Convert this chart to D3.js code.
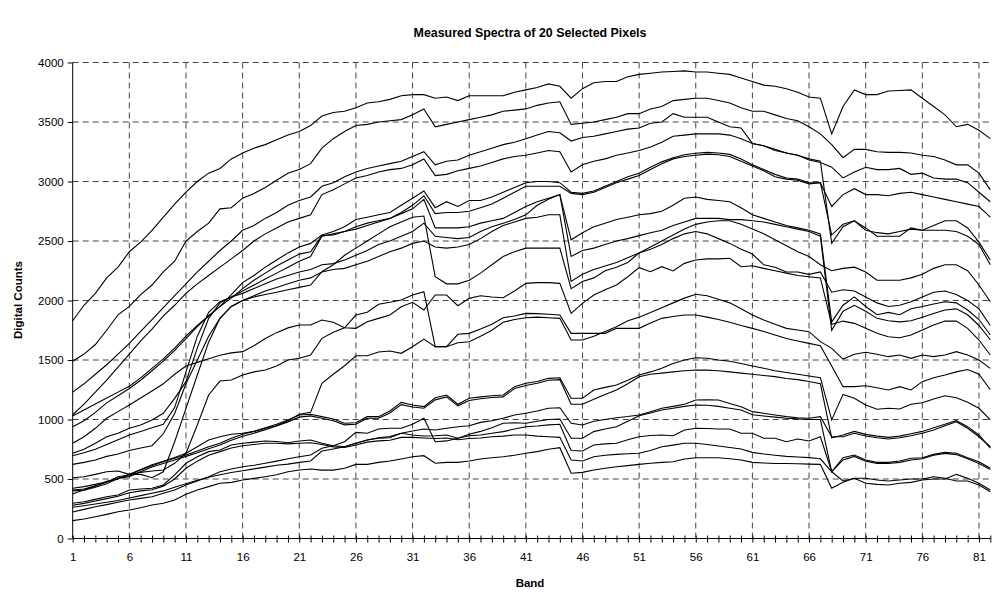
<!DOCTYPE html>
<html>
<head>
<meta charset="utf-8">
<title>Measured Spectra of 20 Selected Pixels</title>
<script src="https://cdn.jsdelivr.net/npm/d3@7"></script>
<style>
  body { margin: 0; background: #fff; }
  svg { display: block; font-family: Arial, "Liberation Sans", sans-serif; }
</style>
</head>
<body>
<svg id="chart" width="992" height="596"></svg>
<script>
// band numbers (categories) and axis labels
const bands = [1,2,3,4,5,6,7,8,9,10,11,12,13,14,15,16,17,18,19,20,21,22,23,24,25,26,27,28,29,30,
  31,32,33,34,35,36,37,38,39,40,41,42,43,44,45,46,47,48,49,50,51,52,53,54,55,56,57,58,59,60,
  61,62,63,64,65,66,67,68,69,70,71,72,73,74,75,76,77,78,79,80,81,82];
const xTickLabels = [1,6,11,16,21,26,31,36,41,46,51,56,61,66,71,76,81];
const yTickValues = [0,500,1000,1500,2000,2500,3000,3500,4000];

// digital counts of the 20 pixels, one value per band
const s01 = [1830,1960,2060,2190,2280,2410,2490,2590,2700,2810,2910,3000,3070,3110,3190,3240,3280,3310,3350,3390,
  3420,3470,3550,3580,3590,3620,3660,3670,3690,3720,3730,3730,3700,3710,3680,3720,3720,3720,3720,3750,
  3770,3790,3820,3800,3700,3780,3830,3840,3840,3880,3900,3910,3920,3925,3930,3920,3920,3910,3900,3870,
  3840,3810,3800,3780,3750,3710,3700,3400,3630,3770,3730,3730,3760,3765,3770,3700,3630,3560,3460,3480,3430,3360];
const s02 = [1490,1550,1630,1750,1880,1950,2050,2130,2240,2330,2500,2580,2650,2770,2780,2860,2900,2950,3010,3070,
  3100,3150,3280,3360,3420,3470,3480,3500,3510,3520,3560,3610,3460,3480,3500,3520,3540,3560,3590,3600,
  3610,3640,3660,3670,3480,3490,3500,3520,3540,3570,3570,3610,3630,3680,3690,3700,3700,3680,3660,3620,
  3590,3590,3560,3530,3510,3460,3400,3310,3200,3270,3270,3250,3245,3245,3240,3220,3210,3180,3140,3140,3070,2930];
const s03 = [1230,1300,1380,1460,1550,1640,1740,1840,1940,2040,2140,2240,2330,2420,2500,2590,2630,2690,2740,2800,
  2840,2870,2960,2990,3040,3080,3110,3130,3150,3170,3210,3250,3140,3170,3180,3220,3250,3280,3310,3330,
  3360,3390,3420,3410,3340,3370,3380,3400,3420,3440,3450,3490,3500,3570,3540,3540,3540,3500,3460,3450,
  3320,3300,3270,3240,3220,3180,3160,3120,3030,3080,3120,3100,3100,3110,3060,3070,3030,3020,3020,2990,2910,2830];
const s04 = [1040,1130,1230,1330,1440,1550,1660,1760,1870,1960,2060,2140,2210,2280,2350,2420,2500,2560,2610,2660,
  2690,2720,2890,2930,2980,3030,3050,3080,3100,3110,3140,3190,3050,3060,3090,3110,3130,3160,3190,3210,
  3220,3240,3260,3250,3080,3140,3170,3190,3220,3240,3260,3290,3330,3380,3390,3400,3400,3400,3390,3360,
  3320,3300,3260,3240,3220,3190,3170,2480,2620,2670,2610,2540,2540,2540,2610,2590,2630,2670,2670,2610,2490,2340];
const s05 = [1030,1080,1130,1180,1230,1280,1350,1430,1510,1600,1700,1790,1870,1950,2050,2150,2210,2280,2340,2400,
  2450,2480,2550,2580,2620,2680,2700,2720,2740,2800,2860,2920,2780,2830,2790,2840,2840,2870,2910,2950,
  2990,3000,3000,2990,2910,2900,2920,2960,3000,3040,3070,3120,3165,3200,3225,3237,3245,3240,3228,3190,
  3140,3100,3060,3030,3020,2990,2990,2790,2890,2940,2890,2890,2880,2900,2910,2890,2870,2850,2830,2810,2790,2700];
const s06 = [940,990,1060,1140,1200,1260,1330,1410,1490,1580,1680,1780,1870,1950,2020,2100,2170,2230,2290,2340,
  2390,2410,2545,2550,2580,2620,2650,2670,2690,2740,2800,2880,2730,2740,2740,2750,2780,2810,2860,2910,
  2960,2960,2960,2960,2900,2890,2910,2950,2990,3020,3050,3100,3150,3190,3210,3220,3230,3225,3210,3170,
  3130,3090,3040,3020,3010,2980,2990,2550,2640,2670,2590,2570,2560,2580,2600,2590,2590,2590,2580,2540,2470,2300];
const s07 = [716,750,800,855,884,926,954,996,1052,1178,1318,1600,1850,1980,2030,2080,2130,2180,2230,2280,
  2330,2370,2540,2560,2580,2600,2630,2660,2690,2730,2770,2850,2610,2610,2610,2620,2650,2670,2690,2740,
  2790,2830,2860,2890,2510,2570,2620,2650,2680,2700,2720,2730,2750,2800,2860,2870,2850,2840,2830,2780,
  2720,2690,2660,2630,2610,2590,2560,1820,1960,2030,1950,1880,1900,1880,1930,1950,1970,1990,1980,1920,1840,1710];
const s08 = [696,720,750,790,830,870,900,930,960,1100,1400,1700,1900,1990,2030,2060,2100,2140,2180,2210,
  2240,2260,2300,2310,2340,2380,2420,2470,2500,2540,2580,2650,2540,2530,2520,2530,2580,2620,2650,2680,
  2720,2800,2850,2890,2370,2420,2440,2470,2500,2520,2545,2570,2590,2630,2660,2690,2690,2690,2680,2680,
  2670,2660,2640,2620,2600,2580,2540,1750,1910,1960,1910,1850,1830,1820,1830,1860,1890,1920,1930,1880,1790,1670];
const s09 = [623,640,660,690,710,740,760,780,880,1050,1300,1500,1700,1850,1950,2000,2040,2080,2110,2140,
  2170,2190,2240,2260,2270,2300,2330,2370,2410,2440,2480,2500,2450,2440,2450,2470,2520,2580,2630,2660,
  2690,2700,2720,2720,2160,2220,2260,2290,2320,2360,2400,2450,2500,2550,2600,2640,2660,2670,2670,2640,
  2600,2560,2510,2460,2410,2370,2300,2250,2270,2280,2240,2170,2170,2170,2190,2220,2270,2300,2300,2250,2130,1990];
const s10 = [511,519,539,561,567,539,539,511,561,813,1094,1374,1650,1850,1950,2000,2030,2050,2070,2090,
  2110,2130,2242,2300,2380,2440,2500,2560,2620,2660,2700,2710,2200,2140,2140,2170,2230,2300,2370,2410,
  2440,2440,2440,2440,2100,2160,2190,2250,2280,2320,2400,2430,2470,2520,2560,2580,2560,2520,2480,2430,
  2390,2300,2280,2240,2240,2220,2240,2070,2090,2080,2030,1980,1950,1960,1990,2030,2070,2080,2050,2000,1930,1790];
const s11 = [800,855,926,1010,1066,1122,1180,1240,1300,1380,1450,1480,1510,1540,1560,1570,1620,1680,1730,1770,
  1794,1794,1836,1817,1771,1766,1822,1850,1878,1948,1985,1920,2046,2046,1956,2018,2040,2030,2023,2080,
  2144,2150,2150,2144,1892,1976,2046,2090,2130,2200,2276,2242,2284,2248,2312,2340,2350,2350,2355,2284,
  2292,2270,2250,2230,2210,2200,2190,1800,1827,1808,1766,1724,1696,1687,1710,1752,1794,1827,1827,1766,1668,1542];
const s12 = [374,410,440,480,500,540,580,620,650,680,716,954,1206,1323,1332,1374,1400,1416,1450,1500,
  1514,1542,1682,1733,1771,1878,1901,1968,1985,2004,2046,2074,1612,1612,1716,1724,1760,1800,1855,1870,
  1892,1890,1885,1878,1724,1724,1724,1724,1766,1766,1766,1810,1850,1865,1878,1878,1860,1840,1817,1790,
  1766,1740,1710,1680,1660,1640,1620,1450,1276,1276,1284,1267,1248,1276,1248,1318,1351,1374,1400,1420,1380,1250];
const s13 = [422,436,455,477,506,534,556,567,575,632,716,771,828,855,876,884,900,926,950,990,
  1044,1060,1304,1380,1452,1536,1536,1567,1576,1556,1612,1676,1612,1612,1645,1654,1700,1750,1817,1840,
  1855,1860,1855,1850,1668,1668,1700,1740,1780,1830,1860,1900,1940,1980,2020,2052,2040,2010,1980,1930,
  1878,1836,1800,1766,1752,1738,1654,1598,1508,1548,1565,1548,1528,1542,1514,1542,1528,1542,1570,1542,1500,1430];
const s14 = [408,416,444,472,519,534,575,612,645,674,702,735,771,800,842,876,900,930,960,996,
  1038,1044,1024,1004,968,973,1024,1024,1071,1144,1122,1108,1183,1206,1128,1178,1190,1200,1206,1276,
  1304,1320,1346,1351,1178,1178,1248,1270,1290,1330,1374,1400,1430,1470,1500,1519,1515,1500,1490,1470,
  1450,1430,1410,1395,1380,1365,1351,996,1211,1178,1122,1086,1094,1088,1128,1141,1172,1200,1183,1144,1094,996];
const s15 = [400,405,430,460,505,520,560,600,630,660,690,720,755,785,825,860,885,915,945,980,
  1020,1030,1010,990,955,960,1010,1010,1055,1125,1105,1095,1165,1190,1115,1160,1175,1185,1190,1260,
  1285,1305,1330,1335,1128,1128,1170,1210,1248,1300,1360,1380,1390,1400,1410,1416,1415,1410,1400,1390,
  1380,1370,1360,1345,1335,1320,1300,845,870,900,875,860,850,860,880,900,930,960,990,940,870,760];
const s16 = [262,275,290,305,320,340,360,380,400,430,460,490,515,535,555,570,585,600,615,625,
  640,651,735,752,771,800,828,847,856,884,903,920,912,926,939,948,976,990,1010,1038,
  1052,1071,1094,1099,968,954,985,1000,1015,1025,1038,1065,1094,1110,1128,1164,1165,1164,1135,1108,
  1066,1052,1038,1024,1015,1010,1024,855,855,884,861,847,836,847,864,884,912,948,981,926,855,771];
const s17 = [222,245,267,285,304,324,337,351,380,408,450,483,519,561,584,603,615,632,650,670,
  687,702,758,780,813,892,884,920,926,926,960,1010,813,820,842,876,900,930,968,973,
  968,985,1000,1004,842,842,898,920,939,985,1032,1055,1080,1095,1110,1122,1120,1110,1095,1080,
  1040,1030,1020,1010,1005,1000,1000,561,679,702,660,640,640,651,674,679,707,724,716,679,645,590];
const s18 = [296,309,329,351,366,408,416,422,450,534,632,687,730,744,786,800,810,819,815,805,
  819,828,800,780,771,800,828,842,847,884,870,861,864,870,842,864,870,885,898,920,
  939,945,955,960,740,735,786,795,800,830,855,865,870,864,912,926,925,920,920,884,
  884,842,842,813,836,819,855,561,660,690,650,630,630,640,660,670,700,715,705,670,630,580];
const s19 = [280,295,315,335,355,385,400,410,440,500,590,650,700,730,760,780,790,800,800,795,
  800,805,790,770,765,785,810,820,825,850,850,845,840,845,830,840,845,855,860,870,
  870,860,855,850,660,651,687,700,707,712,716,740,771,785,800,800,790,777,765,752,
  724,710,700,690,685,680,670,561,483,506,464,455,450,464,472,492,500,500,539,506,464,408];
const s20 = [150,164,183,203,225,240,259,282,296,324,371,408,436,464,472,492,505,519,535,561,
  575,584,575,575,590,623,623,640,651,668,687,696,632,640,640,651,668,678,687,700,
  716,730,750,763,548,556,575,590,603,612,623,632,640,645,668,679,679,679,670,660,
  640,635,630,630,628,625,623,422,472,506,506,492,483,492,500,500,519,506,483,483,450,393];

const series = [s01,s02,s03,s04,s05,s06,s07,s08,s09,s10,s11,s12,s13,s14,s15,s16,s17,s18,s19,s20];

const svg = d3.select("#chart");
const x = d3.scaleLinear().domain([1, 82]).range([72.7, 990.3]);
const y = d3.scaleLinear().domain([0, 4000]).range([538.5, 62.5]);

// dashed grid
svg.append("g").selectAll("line")
  .data(yTickValues.filter(d => d > 0))
  .join("line")
  .attr("x1", x(1)).attr("x2", x(82))
  .attr("y1", d => y(d)).attr("y2", d => y(d))
  .attr("stroke", "#444").attr("stroke-width", 1).attr("stroke-dasharray", "6,4");

svg.append("g").selectAll("line")
  .data(xTickLabels.filter(d => d > 1))
  .join("line")
  .attr("x1", d => x(d)).attr("x2", d => x(d))
  .attr("y1", y(0)).attr("y2", y(4000))
  .attr("stroke", "#444").attr("stroke-width", 1).attr("stroke-dasharray", "6,4");

// spectra
const line = d3.line().x((d, i) => x(bands[i])).y(d => y(d));
svg.append("g").selectAll("path")
  .data(series)
  .join("path")
  .attr("d", line)
  .attr("fill", "none")
  .attr("stroke", "#000")
  .attr("stroke-width", 1.1);

// x axis
const xAxis = svg.append("g")
  .attr("transform", `translate(0,${y(0)})`)
  .call(d3.axisBottom(x).tickValues(bands)
    .tickFormat(d => xTickLabels.includes(d) ? d : "")
    .tickSize(4).tickPadding(10));
xAxis.select(".domain").remove();
xAxis.selectAll(".tick line").attr("y1", -3).attr("stroke", "#000");
xAxis.selectAll("text").attr("font-size", 11.5).attr("font-family", "Arial, 'Liberation Sans', sans-serif").attr("fill", "#000");
svg.append("line")
  .attr("x1", x(1)).attr("x2", x(82))
  .attr("y1", y(0)).attr("y2", y(0))
  .attr("stroke", "#000");

// y axis
const yAxis = svg.append("g")
  .attr("transform", `translate(${x(1)},0)`)
  .call(d3.axisLeft(y).tickValues(yTickValues).tickFormat(d3.format("d")).tickSize(5).tickPadding(4));
yAxis.select(".domain").remove();
yAxis.selectAll(".tick line").attr("stroke", "#000");
yAxis.selectAll("text").attr("font-size", 11.5).attr("font-family", "Arial, 'Liberation Sans', sans-serif").attr("fill", "#000");
svg.append("line")
  .attr("x1", x(1)).attr("x2", x(1))
  .attr("y1", y(0)).attr("y2", y(4000))
  .attr("stroke", "#000");

// titles
svg.append("text")
  .attr("x", 530).attr("y", 37)
  .attr("text-anchor", "middle")
  .attr("font-size", 12.4).attr("font-weight", "bold")
  .text("Measured Spectra of 20 Selected Pixels");

svg.append("text")
  .attr("transform", "translate(22,300) rotate(-90)")
  .attr("text-anchor", "middle")
  .attr("font-size", 11.5).attr("font-weight", "bold")
  .text("Digital Counts");

svg.append("text")
  .attr("x", 530).attr("y", 587)
  .attr("text-anchor", "middle")
  .attr("font-size", 11.5).attr("font-weight", "bold")
  .text("Band");
</script>
</body>
</html>
